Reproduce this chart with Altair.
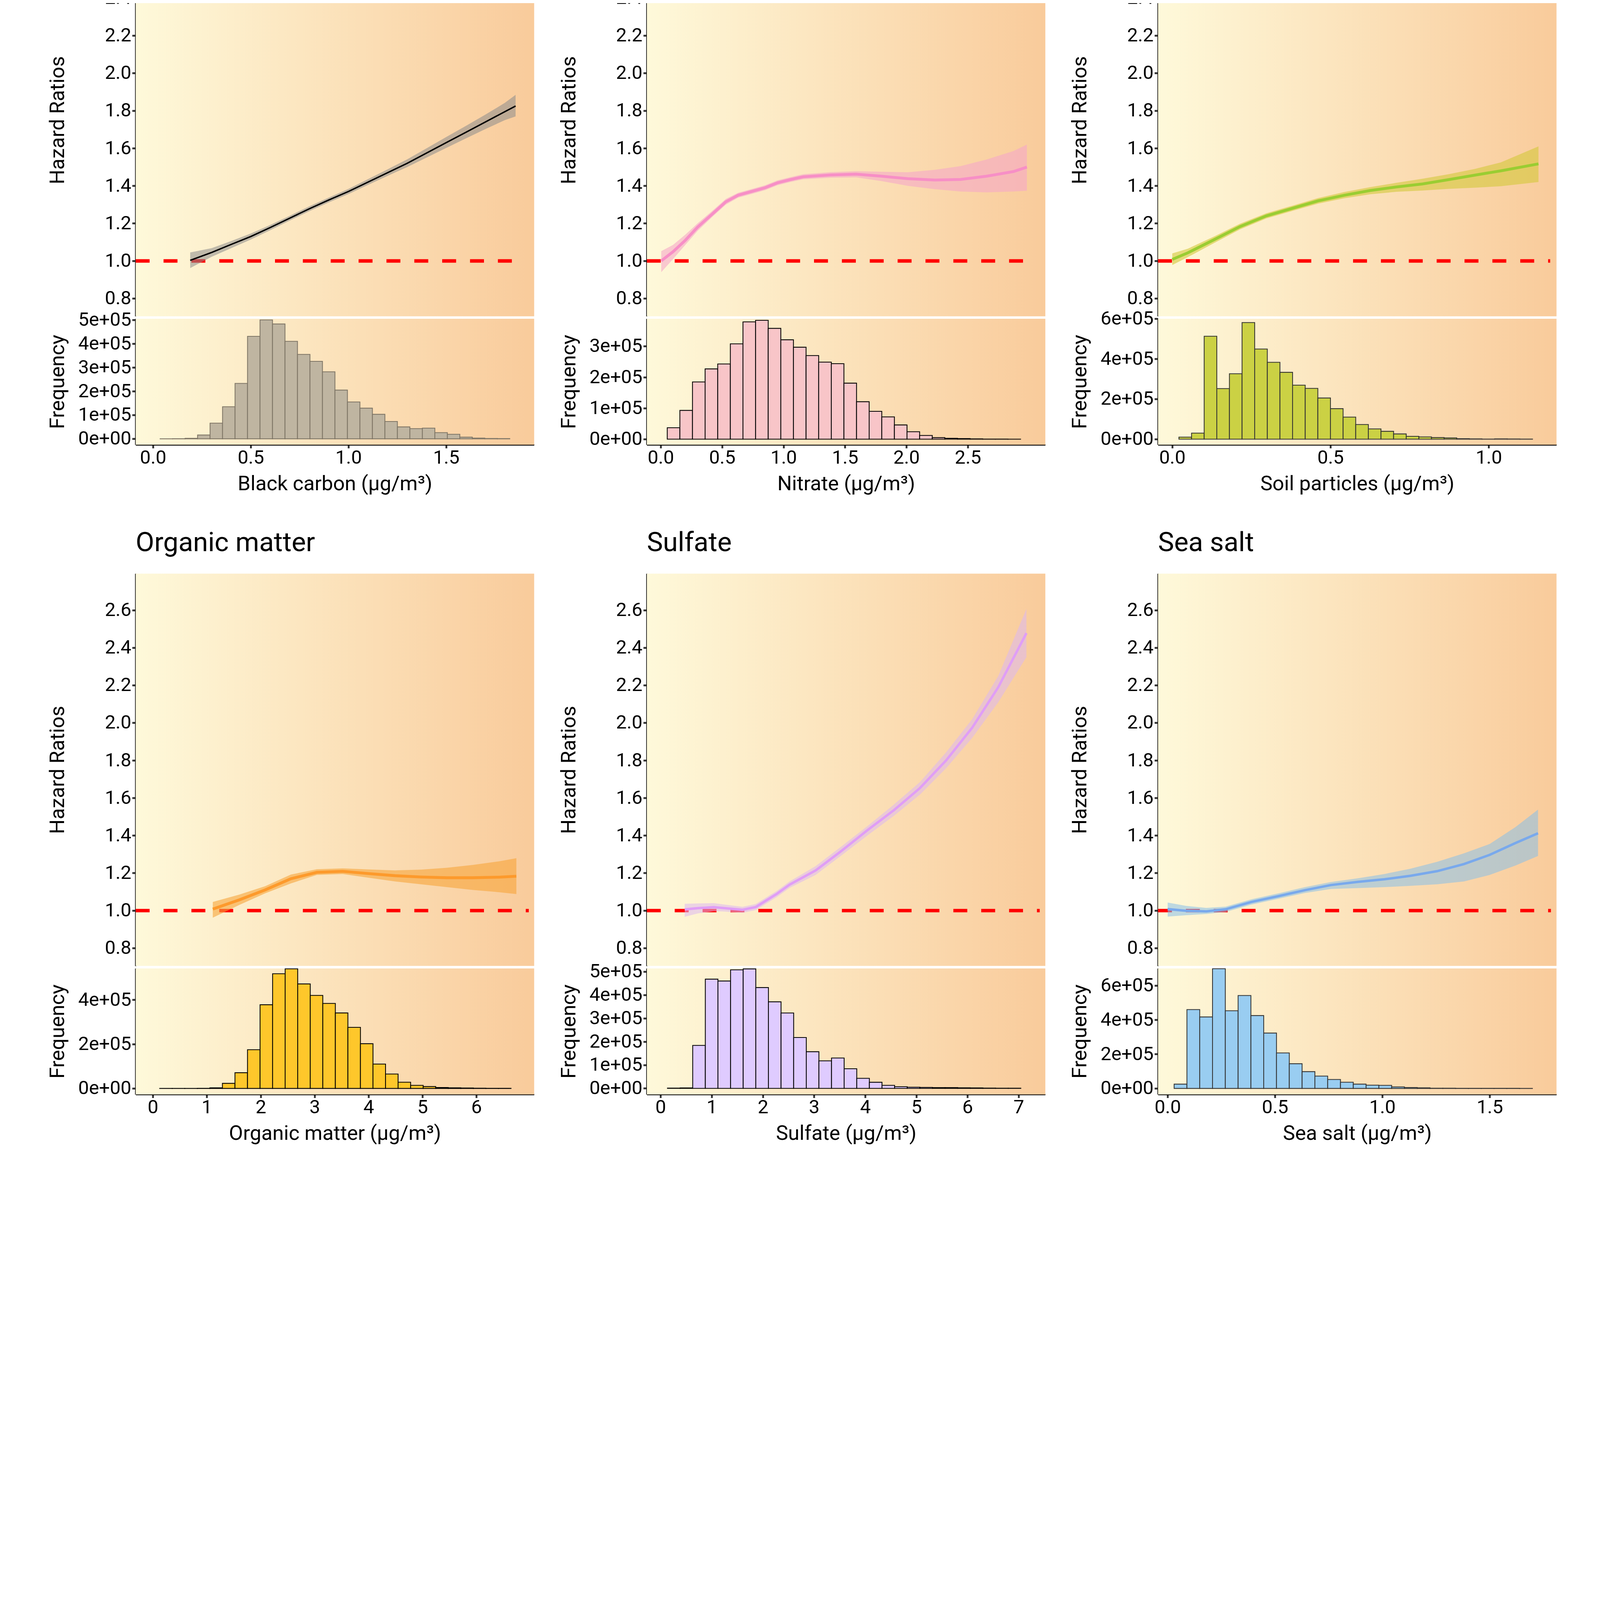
import altair as alt
import numpy as np
import pandas as pd

# ---- Black carbon ----
BC_X = [0.19, 0.30, 0.40, 0.50, 0.60, 0.70, 0.80, 0.90, 1.00, 1.10, 1.20, 1.30, 1.40, 1.50, 1.60, 1.70, 1.80, 1.855]
BC_HR = [1.003, 1.045, 1.088, 1.130, 1.178, 1.228, 1.278, 1.325, 1.370, 1.420, 1.470, 1.520, 1.575, 1.630, 1.685, 1.740, 1.795, 1.825]
BC_LO = [0.962, 1.022, 1.068, 1.114, 1.164, 1.215, 1.265, 1.312, 1.356, 1.405, 1.453, 1.500, 1.551, 1.602, 1.652, 1.702, 1.750, 1.770]
BC_HI = [1.045, 1.068, 1.106, 1.146, 1.192, 1.241, 1.291, 1.338, 1.384, 1.436, 1.488, 1.541, 1.600, 1.660, 1.719, 1.779, 1.842, 1.885]
BC_BIN_START, BC_BIN_WIDTH = 0.036, 0.0639
BC_COUNTS = [200, 300, 2000, 16000, 66000, 135000, 233000, 431000, 500000, 483000, 410000, 355000,
             326000, 282000, 205000, 155000, 129000, 103000, 73000, 50000, 43000, 45000, 26000, 19000,
             7000, 3000, 1500, 800]

# ---- Nitrate ----
NI_X = [0.004, 0.10, 0.20, 0.30, 0.42, 0.53, 0.63, 0.74, 0.85, 0.95, 1.06, 1.16, 1.38, 1.59, 1.80, 2.01, 2.23, 2.44, 2.65, 2.87, 2.98]
NI_HR = [1.000, 1.049, 1.110, 1.180, 1.250, 1.315, 1.350, 1.370, 1.390, 1.416, 1.434, 1.448, 1.458, 1.462, 1.451, 1.438, 1.431, 1.434, 1.451, 1.476, 1.500]
NI_LO = [0.940, 1.010, 1.085, 1.160, 1.235, 1.300, 1.337, 1.357, 1.377, 1.403, 1.421, 1.435, 1.443, 1.445, 1.425, 1.400, 1.382, 1.370, 1.365, 1.370, 1.374]
NI_HI = [1.052, 1.085, 1.140, 1.200, 1.267, 1.330, 1.363, 1.383, 1.403, 1.429, 1.447, 1.462, 1.473, 1.478, 1.475, 1.472, 1.485, 1.505, 1.540, 1.585, 1.620]
NI_BIN_START, NI_BIN_WIDTH = 0.053, 0.1027
NI_COUNTS = [37000, 93000, 185000, 227000, 243000, 308000, 379000, 384000, 358000, 321000, 297000, 270000,
             249000, 244000, 181000, 121000, 90000, 72000, 46000, 24000, 12000, 5000, 3000, 2000,
             1000, 400, 300, 100]

# ---- Soil particles ----
SO_X = [0.000, 0.049, 0.132, 0.214, 0.297, 0.379, 0.461, 0.544, 0.626, 0.708, 0.791, 0.873, 0.956, 1.038, 1.157]
SO_HR = [1.008, 1.043, 1.113, 1.183, 1.240, 1.280, 1.320, 1.350, 1.375, 1.394, 1.410, 1.433, 1.457, 1.480, 1.517]
SO_LO = [0.978, 1.020, 1.095, 1.168, 1.226, 1.266, 1.305, 1.334, 1.355, 1.368, 1.375, 1.384, 1.390, 1.398, 1.420]
SO_HI = [1.040, 1.065, 1.130, 1.198, 1.254, 1.294, 1.335, 1.367, 1.393, 1.416, 1.438, 1.462, 1.490, 1.525, 1.610]
SO_BIN_START, SO_BIN_WIDTH = 0.021, 0.0399
SO_COUNTS = [10000, 30000, 513000, 252000, 326000, 581000, 449000, 383000, 333000, 269000, 253000, 205000,
             152000, 110000, 73000, 51000, 39000, 26000, 14000, 11000, 8000, 6000, 2000, 1000,
             500, 1000, 800, 300]

# ---- Organic matter ----
OM_X = [1.11, 1.60, 2.08, 2.56, 3.04, 3.52, 4.00, 4.49, 4.97, 5.45, 5.93, 6.41, 6.74]
OM_HR = [1.008, 1.057, 1.110, 1.170, 1.204, 1.209, 1.197, 1.186, 1.179, 1.175, 1.175, 1.178, 1.183]
OM_LO = [0.962, 1.030, 1.092, 1.145, 1.190, 1.195, 1.175, 1.155, 1.140, 1.125, 1.110, 1.098, 1.088]
OM_HI = [1.046, 1.085, 1.130, 1.192, 1.220, 1.225, 1.219, 1.214, 1.218, 1.228, 1.243, 1.262, 1.279]
OM_BIN_START, OM_BIN_WIDTH = 0.125, 0.2327
OM_COUNTS = [200, 200, 300, 500, 3000, 23000, 71000, 175000, 378000, 518000, 540000, 472000,
             420000, 384000, 341000, 276000, 202000, 110000, 65000, 28000, 14000, 8500, 4000, 3000,
             2000, 1000, 800, 500]

# ---- Sulfate ----
SU_X = [0.47, 0.73, 1.04, 1.25, 1.60, 1.86, 2.27, 2.52, 3.03, 3.54, 4.05, 4.56, 5.07, 5.58, 6.09, 6.60, 7.15]
SU_HR = [1.006, 1.013, 1.018, 1.013, 1.004, 1.019, 1.089, 1.138, 1.214, 1.319, 1.430, 1.535, 1.653, 1.800, 1.974, 2.190, 2.478]
SU_LO = [0.967, 0.985, 0.997, 0.995, 0.988, 1.003, 1.072, 1.121, 1.190, 1.295, 1.402, 1.505, 1.618, 1.758, 1.920, 2.110, 2.350]
SU_HI = [1.036, 1.038, 1.040, 1.032, 1.020, 1.035, 1.105, 1.155, 1.237, 1.343, 1.452, 1.565, 1.685, 1.843, 2.020, 2.250, 2.607]
SU_BIN_START, SU_BIN_WIDTH = 0.133, 0.2467
SU_COUNTS = [1000, 2000, 184000, 468000, 460000, 508000, 512000, 432000, 371000, 323000, 218000, 157000,
             118000, 130000, 84000, 43000, 26000, 13000, 7000, 5000, 4000, 3000, 3000, 2500,
             2000, 1000, 500, 500]

# ---- Sea salt ----
SS_X = [0.000, 0.085, 0.18, 0.27, 0.39, 0.516, 0.64, 0.76, 0.885, 1.01, 1.13, 1.255, 1.38, 1.50, 1.62, 1.725]
SS_HR = [1.008, 0.999, 0.996, 1.007, 1.046, 1.077, 1.109, 1.136, 1.153, 1.167, 1.185, 1.210, 1.248, 1.297, 1.360, 1.412]
SS_LO = [0.968, 0.975, 0.982, 0.993, 1.032, 1.063, 1.094, 1.115, 1.120, 1.125, 1.132, 1.140, 1.155, 1.190, 1.240, 1.291]
SS_HI = [1.043, 1.025, 1.014, 1.021, 1.060, 1.092, 1.125, 1.152, 1.172, 1.195, 1.223, 1.260, 1.305, 1.355, 1.445, 1.538]
SS_BIN_START, SS_BIN_WIDTH = 0.030, 0.0596
SS_COUNTS = [25000, 460000, 417000, 698000, 453000, 542000, 425000, 323000, 207000, 144000, 98000, 72000,
             52000, 36000, 25000, 19000, 18000, 8500, 5500, 3600, 1500, 1200, 1000, 1000,
             800, 600, 500, 400]

HR_TICKS = [0.8, 1.0, 1.2, 1.4, 1.6, 1.8, 2.0, 2.2, 2.4, 2.6]
HR_DOMAIN = [0.705, 2.795]

# one panel = HR curve on top, histogram below, sharing the x scale
W, H_TOP, GAP, H_HIST = 1945, 1915, 12, 615
H_ALL = H_TOP + GAP + H_HIST
PAGE_W = 7779                 # window minus the 8px page margin on each side
ORIGIN_X = 647                # left edge of the first plot area
# the grid lands ~2886px below the top padding in this renderer, so pull it back up
GRID_DROP = 2886
ORIGIN_Y = 340 - GRID_DROP
PAD_BOTTOM = 7310
FONT = "Roboto"

GRAD = alt.LinearGradient(
    gradient="linear",
    stops=[alt.GradientStop(color="#fef9da", offset=0), alt.GradientStop(color="#f9cb9b", offset=1)],
    x1=0, x2=1, y1=0, y2=0,
)

# left axes share a fixed extent so "Hazard Ratios" and "Frequency" line up
LEFT_AXIS = dict(orient="left", minExtent=300, maxExtent=300, titlePadding=50,
                 titleBaseline="alphabetic", labelPadding=5)


def backdrop(y0, y1):
    # the cream -> peach wash behind the curve area and behind the histogram
    return alt.Chart(alt.Data(values=[{}])).mark_rect(fill=GRAD).encode(
        x=alt.value(0), x2=alt.value(W), y=alt.value(y0), y2=alt.value(y1))


def panel(title, xlabel, x, hr, lo, hi, bin_start, bin_width, counts, xdom, xticks, xfmt, ref_end,
          hdom, hticks, line_col, line_w, band_col, band_op, bar_fill, bar_stroke):
    xs = alt.Scale(domain=xdom, nice=False, zero=False)
    xax = alt.Axis(title=xlabel, values=xticks, format=xfmt, labelPadding=1, minExtent=120, maxExtent=120,
                   titlePadding=102, titleBaseline="alphabetic")
    ys = alt.Scale(domain=HR_DOMAIN, range=[H_TOP, 0], nice=False, zero=False)
    yax = alt.Axis(title="Hazard Ratios", values=HR_TICKS, format=".1f", **LEFT_AXIS)
    curve = pd.DataFrame({"x": x, "hr": hr, "lo": lo, "hi": hi})
    ref = pd.DataFrame({"x": [xdom[0]], "xe": [ref_end], "hr": [1.0]})

    rule = alt.Chart(ref).mark_rule(color="#ff0000", strokeWidth=17, strokeDash=[68, 68]).encode(
        x=alt.X("x:Q", scale=xs, axis=xax), x2="xe", y=alt.Y("hr:Q", scale=ys, axis=yax))
    band = alt.Chart(curve).mark_area(color=band_col, opacity=band_op).encode(
        x=alt.X("x:Q", scale=xs, axis=xax), y=alt.Y("lo:Q", scale=ys, axis=yax), y2="hi")
    line = alt.Chart(curve).mark_line(color=line_col, strokeWidth=line_w).encode(
        x=alt.X("x:Q", scale=xs, axis=xax), y=alt.Y("hr:Q", scale=ys, axis=yax))
    curves = alt.layer(rule, band, line)

    edges = bin_start + bin_width * np.arange(len(counts) + 1)
    hist = pd.DataFrame({"x0": edges[:-1], "x1": edges[1:], "n": counts})
    hs = alt.Scale(domain=hdom, range=[H_ALL, H_TOP + GAP], nice=False, zero=False)
    bars = alt.Chart(hist).mark_rect(fill=bar_fill, stroke=bar_stroke, strokeWidth=4).encode(
        x=alt.X("x0:Q", scale=xs, axis=xax),
        x2="x1",
        y=alt.Y("n:Q", scale=hs, axis=alt.Axis(
            title="Frequency", values=hticks,
            labelExpr="datum.value == 0 ? '0e+00' : format(datum.value / 100000, 'd') + 'e+05'",
            **LEFT_AXIS)),
        y2=alt.datum(0),
    )
    name = alt.Chart(alt.Data(values=[{}])).mark_text(
        text=title, align="left", baseline="alphabetic", font=FONT, fontSize=132, color="#000000"
    ).encode(x=alt.value(0), y=alt.value(-109))
    return (
        alt.layer(backdrop(0, H_TOP), backdrop(H_TOP + GAP, H_ALL), curves, bars, name)
        .resolve_scale(y="independent")
        .properties(width=W, height=H_ALL)
    )


p_bc = panel("Black carbon", "Black carbon (µg/m³)", BC_X, BC_HR, BC_LO, BC_HI, BC_BIN_START, BC_BIN_WIDTH,
             BC_COUNTS, [-0.089, 1.95], [0, 0.5, 1.0, 1.5], ".1f", 1.905,
             [-25000, 505000], [0, 100000, 200000, 300000, 400000, 500000],
             "#000000", 7, "#8c8c8c", 0.55, "#bfb5a1", "#7f7666")
p_ni = panel("Nitrate", "Nitrate (µg/m³)", NI_X, NI_HR, NI_LO, NI_HI, NI_BIN_START, NI_BIN_WIDTH,
             NI_COUNTS, [-0.113, 3.13], [0, 0.5, 1.0, 1.5, 2.0, 2.5], ".1f", 3.06,
             [-18000, 389000], [0, 100000, 200000, 300000],
             "#f78fc6", 14, "#f5a8c8", 0.6, "#f8c5c8", "#000000")
p_so = panel("Soil particles", "Soil particles (µg/m³)", SO_X, SO_HR, SO_LO, SO_HI, SO_BIN_START, SO_BIN_WIDTH,
             SO_COUNTS, [-0.045, 1.214], [0, 0.5, 1.0], ".1f", 1.194,
             [-28000, 600000], [0, 200000, 400000, 600000],
             "#9acd32", 14, "#d4c83a", 0.6, "#cbd144", "#333333")
p_om = panel("Organic matter", "Organic matter (µg/m³)", OM_X, OM_HR, OM_LO, OM_HI, OM_BIN_START, OM_BIN_WIDTH,
             OM_COUNTS, [-0.32, 7.07], [0, 1, 2, 3, 4, 5, 6], "d", 6.97,
             [-27000, 542000], [0, 200000, 400000],
             "#fd9a2c", 14, "#f7a53a", 0.6, "#fec72b", "#000000")
p_su = panel("Sulfate", "Sulfate (µg/m³)", SU_X, SU_HR, SU_LO, SU_HI, SU_BIN_START, SU_BIN_WIDTH,
             SU_COUNTS, [-0.27, 7.52], [0, 1, 2, 3, 4, 5, 6, 7], "d", 7.41,
             [-26000, 514000], [0, 100000, 200000, 300000, 400000, 500000],
             "#e09ef6", 12, "#dcb8f0", 0.55, "#dfcbff", "#000000")
p_ss = panel("Sea salt", "Sea salt (µg/m³)", SS_X, SS_HR, SS_LO, SS_HI, SS_BIN_START, SS_BIN_WIDTH,
             SS_COUNTS, [-0.045, 1.811], [0, 0.5, 1.0, 1.5], ".1f", 1.785,
             [-35000, 700000], [0, 200000, 400000, 600000],
             "#79a9ec", 12, "#88c0e8", 0.55, "#99cdf1", "#333333")

# the grid is flush (plot areas only), so with autosize "none" the padding alone fixes
# where the first plot sits
chart = (
    alt.concat(p_bc, p_ni, p_so, p_om, p_su, p_ss, columns=3,
               spacing=alt.RowColnumber(row=629, column=550), bounds="flush")
    .properties(
        autosize=alt.AutoSizeParams(type="none"),
        padding={"left": ORIGIN_X, "top": ORIGIN_Y, "right": PAGE_W - ORIGIN_X, "bottom": PAD_BOTTOM},
        background="white",
    )
    .configure_view(stroke=None)
    .configure_axis(
        labelFont=FONT, titleFont=FONT, labelFontSize=93, titleFontSize=100, titleFontWeight="normal",
        labelColor="#000000", titleColor="#000000", domainColor="#000000", domainWidth=7,
        tickColor="#333333", tickWidth=9, tickSize=17, grid=False, labelOverlap=False, labelLimit=0,
    )
)

chart.save("out.html", embed_options={"renderer": "svg", "actions": False})
